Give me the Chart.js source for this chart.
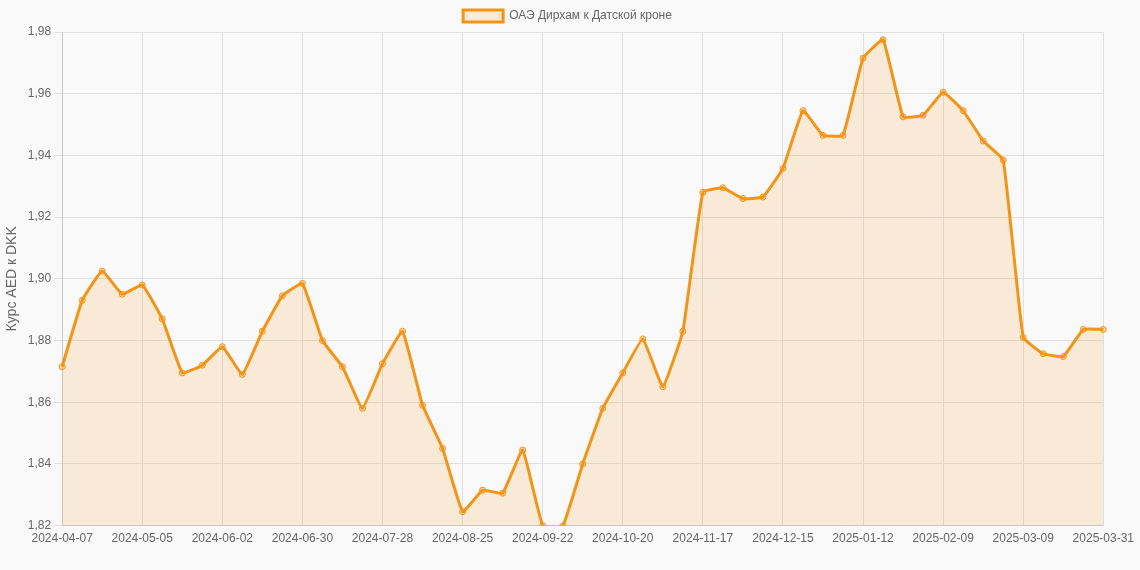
<!DOCTYPE html>
<html><head><meta charset="utf-8">
<script src="https://cdn.jsdelivr.net/npm/chart.js@4"></script>
<style>html,body{margin:0;background:#f9f9f9}#w{width:1140px;height:570px}</style>
</head><body><div id="w"><canvas id="c"></canvas></div>
<script>
const startDate = "2024-04-07";
const lastLabel = "2025-03-31";
const values = [1.8715,1.893,1.9025,1.895,1.898,1.887,1.8695,1.872,1.878,1.869,1.883,1.8945,1.8985,1.880,1.8715,1.858,1.8725,1.883,1.859,1.845,1.8245,1.8315,1.8305,1.8445,1.820,1.8198,1.840,1.858,1.8695,1.8805,1.865,1.883,1.928,1.9295,1.926,1.9265,1.9358,1.9545,1.9465,1.9465,1.9715,1.9775,1.9525,1.953,1.9605,1.9545,1.9447,1.9385,1.881,1.8757,1.8748,1.8836,1.8836];
const labels = values.map((v,i)=>{const d=new Date(startDate+"T00:00:00Z");d.setUTCDate(d.getUTCDate()+7*i);return d.toISOString().slice(0,10);});
labels[labels.length-1]=lastLabel;
const yTicks=[1.82,1.84,1.86,1.88,1.90,1.92,1.94,1.96,1.98];
const shown=i=>(i%4===0||i===labels.length-1);
new Chart(document.getElementById('c'),{type:'line',
data:{labels,datasets:[{label:'ОАЭ Дирхам к Датской кроне',data:values,borderColor:'#f39417',backgroundColor:'rgba(243,148,23,0.15)',borderWidth:3,fill:true,tension:0.1,pointRadius:3,pointBackgroundColor:'rgba(243,148,23,0.3)',pointBorderColor:'#f39417',pointBorderWidth:1}]},
options:{responsive:true,maintainAspectRatio:false,animation:false,layout:{padding:{right:5,bottom:18}},
plugins:{legend:{labels:{color:'#666',font:{family:'Arial, Liberation Sans',size:12}}}},
scales:{x:{grid:{color:c=>shown(c.index)?'#e0e0e0':'rgba(0,0,0,0)',drawTicks:false},ticks:{autoSkip:false,maxRotation:0,padding:6,color:'#666',font:{size:12},callback:function(v,i){return shown(i)?labels[i]:'';}}},
y:{min:1.82,max:1.98,grid:{color:'#e0e0e0'},afterBuildTicks:a=>{a.ticks=yTicks.map(v=>({value:v}));},
ticks:{color:'#666',font:{size:12},callback:v=>v.toFixed(2).replace('.',',')},
title:{display:true,text:'Курс AED к DKK',color:'#666',font:{size:14}}}}}});
</script></body></html>
